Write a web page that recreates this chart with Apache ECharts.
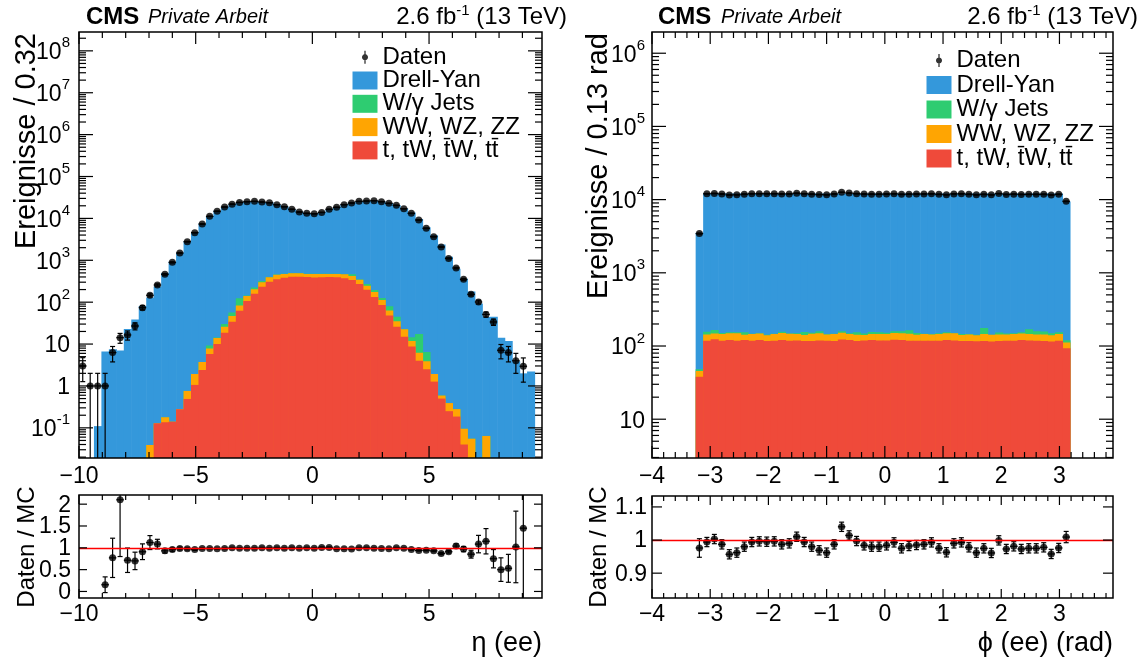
<!DOCTYPE html>
<html>
<head>
<meta charset="utf-8">
<script src="https://cdn.jsdelivr.net/npm/echarts@6.0.0/dist/echarts.min.js"></script>
<style>
html,body{margin:0;padding:0;background:#ffffff;}
#chart{width:1146px;height:660px;}
</style>
</head>
<body>
<div id="chart"></div>
<script>
// ===================== DATA =====================
// eta (ee): 62 bins of width 0.32 starting at -10
const etaBinStart = -10;
const etaBinWidth = 0.32;
const etaData = [3.0,1,1,1,6.25,14.2,16.5,27,74,146, 257,462,892,1493,2786,4570,7350,11200,14800,18700, 21900,24100,25100,25500,24600,23700,21300,19000,16500,14200, 13200,12900,13900,16500,18400,21300,23300,25500,26000,26500, 25100,22900,20500,17000,13200,9150,5800,3660,2080,1110, 655,351,154,101,51,33.7,7.1,6.25,4.0,2.95, null,null];
const etaDrellYan = [0,0,0.11,6.6,7.5,7.0,23,38.6,81,130, 237,497,929,1516,2850,4760,7455,11360,15135,18950, 21840,24215,25205,25535,24280,23545,20845,18715,16005,13845, 12725,12555,13315,15895,18355,21335,23560,25150,25730,26575, 25355,23360,20455,17150,13735,9710,6125,3935,2390,1220, 630,362,180,93,44,45,14.2,11.8,3.9,2.0, 2.2,0];
const etaWJets = [0,0,0,0,0,0,0,0,0,0, 0,0,0,0,0,0,0,1.5,0.3,4, 10,41,4,19,23,4,3,5,6,6, 4,4,4,4,4,4,41,3,25,21, 13,17,10,0.5,2.6,11.3,2.6,0,0,0, 0,0,0,0,0,0,0,0,0,0, 0,0];
const etaDiboson = [0,0,0,0,0,0,0,0,0,0.039, 0,0.043,0,0,0.27,0.87,1.33,2.0,4,7.3, 13,21,34,44,64,84,102,87,84,84, 71,81,78,71,78,90,82,73,49,42, 27,15,9,7.5,3.2,2.2,1.4,0.66,0.09,0.14, 0.094,0.055,0.055,0,0.064,0,0,0,0,0, 0,0];
const etaTop = [0,0,0,0,0,0,0,0,0,0, 0.128,0.136,0.14,0.277,0.49,1.06,2.41,5.8,10,18.7, 34,62,107,160,234,309,352,384,406,406, 400,390,393,400,393,372,339,272,198,133, 86,48,26,15,8.7,4.0,2.5,1.27,0.5,0.25, 0.186,0.04,0,0,0,0,0,0,0,0, 0,0];
const etaRatio = [null,null,null,0.154,0.77,2.1,0.715,0.70,0.91,1.12, 1.085,0.93,0.96,0.985,0.977,0.96,0.985,0.985,0.977,0.985, 1.0,0.99,0.99,0.99,1.0,0.99,1.0,0.99,1.0,0.99, 1.0,0.99,1.008,1.008,0.977,0.977,0.97,1.0,1.0,0.99, 0.985,0.977,1.0,0.99,0.96,0.94,0.946,0.93,0.87,0.91, 1.04,0.97,0.854,1.085,1.15,0.75,0.5,0.53,1.02,1.45, null,null];
const etaRatioErr = [null,null,null,0.18,0.45,1.3,0.28,0.2,0.18,0.16, 0.11,0.05,0.04,0.03,0.025,0.02,0.015,0.012,0.012,0.012, 0.012,0.012,0.012,0.012,0.012,0.012,0.012,0.012,0.012,0.012, 0.012,0.012,0.012,0.012,0.012,0.012,0.012,0.012,0.012,0.012, 0.012,0.012,0.012,0.012,0.014,0.015,0.016,0.02,0.025,0.03, 0.05,0.06,0.09,0.2,0.29,0.21,0.27,0.32,0.82,2.0, null,null];

// phi (ee): 50 bins
const phiBinStart = -3.25;
const phiBinWidth = 0.1286;
const phiData = [3435,12030,12140,11940,11580,11640,11860,12030,12050,12040, 12050,11940,11980,12220,12030,11860,11720,11640,11940,12580, 12270,12060,11910,11860,11860,11910,12020,11800,11880,11920, 11940,12020,11800,11650,11980,12020,11830,11640,11800,11630, 12090,11770,11870,11770,11800,11800,11830,11590,11810,9480];
const phiDrellYan = [3470,11950,11950,11950,11950,11950,11950,11950,11950,11950, 11950,11950,11950,11950,11950,11950,11950,11950,11950,11950, 11950,11950,11950,11950,11950,11950,11950,11950,11950,11950, 11950,11950,11950,11950,11950,11950,11950,11950,11950,11950, 11950,11950,11950,11950,11950,11950,11950,11950,11950,9280];
const phiWJets = [2.3,12.7,16.5,4.4,4.8,4.8,10.8,1.3,1.7,3, 1.3,5,1.7,3,14,4.7,9.6,1.7,1.3,6.6, 3,10.8,7.6,9.4,7.8,6,9.6,9.6,16.7,7.4, 1,1.7,3,4.8,1,4.6,1.7,3,30,1, 9.5,4.7,3,6.5,23,15.7,14.3,9,7.8,7.4];
const phiDiboson = [7.7,26,24.5,28,28,31,22,28,27,23, 28,30,29,27,24,30,30,26,29,29, 25,26,22,25,27,27,28,28,29,25, 28,26,28,28,30,24,27,24,29,27, 27,26,28,27,27,26,27,25,28,19];
const phiTop = [38,118,124,118,121,118,121,118,121,117, 118,121,118,119,117,117,119,118,117,123, 121,117,119,121,119,119,122,121,118,118, 118,118,118,121,119,117,117,116,117,115, 117,118,118,121,119,118,117,115,118,93];
const phiRatio = [0.976,0.994,1.003,0.987,0.957,0.962,0.98,0.994,0.996,0.995, 0.996,0.987,0.99,1.01,0.994,0.98,0.969,0.962,0.987,1.04, 1.014,0.997,0.984,0.98,0.98,0.984,0.993,0.975,0.982,0.985, 0.987,0.993,0.975,0.963,0.99,0.993,0.978,0.962,0.975,0.961, 0.999,0.973,0.981,0.973,0.975,0.975,0.978,0.958,0.976,1.009];
const phiRatioErr = [0.028,0.014,0.014,0.014,0.014,0.014,0.014,0.014,0.014,0.014, 0.014,0.014,0.014,0.014,0.014,0.014,0.014,0.014,0.014,0.014, 0.014,0.014,0.014,0.014,0.014,0.014,0.014,0.014,0.014,0.014, 0.014,0.014,0.014,0.014,0.014,0.014,0.014,0.014,0.014,0.014, 0.014,0.014,0.014,0.014,0.014,0.014,0.014,0.014,0.014,0.017];

// tick labels
const etaTickValues = [-10, -5, 0, 5];
const phiTickValues = [-4, -3, -2, -1, 0, 1, 2, 3];
const etaCountExponents = [-1, 0, 1, 2, 3, 4, 5, 6, 7, 8];
const phiCountExponents = [1, 2, 3, 4, 5, 6];
const etaRatioTicks = [0, 0.5, 1, 1.5, 2];
const phiRatioTicks = [0.9, 1, 1.1];
const legendNames = ['Daten', 'Drell-Yan', 'W/\u03b3 Jets', 'WW, WZ, ZZ', 't, tW, t\u0304W, tt\u0304'];

// ===================== HELPERS =====================
const FONT = '"Liberation Sans", Arial, Helvetica, sans-serif';
const COL = { dy: '#3498db', wj: '#2ecc71', vv: '#ffa502', tt: '#ef4a3a' };
const LABEL_SIZE = 23;
const mctx = document.createElement('canvas').getContext('2d');
function textWidth(t, font) { mctx.font = font; return mctx.measureText(t).width; }
function fmtNum(v) { return String(v).replace('-', '\u2212'); }
function txt(text, x, y, font, align, valign, extra) {
  const o = { type: 'text', style: { text: text, x: x, y: y, font: font, fill: '#000',
    align: align, verticalAlign: valign, textAlign: align, textVerticalAlign: valign } };
  return Object.assign(o, extra || {});
}

function stackTops(layers) {
  const out = [];
  let acc = layers[0].map(() => 0);
  layers.forEach(l => { acc = acc.map((a, i) => a + (l[i] || 0)); out.push(acc.slice()); });
  return out;
}
function histItems(start, width, tops) {
  const items = [];
  tops.forEach((t, i) => { if (t > 0) items.push([start + width * i, start + width * (i + 1), t]); });
  return items;
}
function pointItems(start, width, vals) {
  const items = [];
  vals.forEach((v, i) => { if (v != null) items.push([start + width * (i + 0.5), v]); });
  return items;
}
function errItems(start, width, vals, errs, isLog) {
  const items = [];
  vals.forEach((v, i) => {
    if (v == null) return;
    const e = errs ? errs[i] : Math.sqrt(v); // Poisson uncertainty for counts
    items.push([start + width * (i + 0.5), width / 2, v, e, isLog ? 1 : 0]);
  });
  return items;
}

function renderHist(params, api) {
  const cs = params.coordSys;
  const x0 = api.value(0), x1 = api.value(1), top = api.value(2);
  const p0 = api.coord([x0, top]);
  const p1 = api.coord([x1, top]);
  const B = cs.y + cs.height;
  const yT = Math.max(p0[1], cs.y);
  if (!(yT < B)) return null;
  return { type: 'rect', shape: { x: p0[0], y: yT, width: p1[0] - p0[0] + 0.6, height: B - yT },
    style: { fill: api.visual('color') } };
}

function renderErr(params, api) {
  const cs = params.coordSys, T = cs.y, B = cs.y + cs.height;
  const xc = api.value(0), hw = api.value(1), y = api.value(2), e = api.value(3), isLog = api.value(4) === 1;
  const pc = api.coord([xc, y]);
  const xl = api.coord([xc - hw, y])[0], xr = api.coord([xc + hw, y])[0];
  const yHi = api.coord([xc, y + e])[1];
  const yLo = (isLog && y - e <= 0) ? B + 10 : api.coord([xc, y - e])[1];
  const st = { stroke: '#000', lineWidth: 1.2 };
  const ch = [];
  ch.push({ type: 'line', shape: { x1: xl, y1: pc[1], x2: xr, y2: pc[1] }, style: st });
  const y1 = Math.max(yHi, T), y2 = Math.min(yLo, B);
  ch.push({ type: 'line', shape: { x1: pc[0], y1: y1, x2: pc[0], y2: y2 }, style: st });
  if (yHi >= T) ch.push({ type: 'line', shape: { x1: pc[0] - 2.5, y1: yHi, x2: pc[0] + 2.5, y2: yHi }, style: st });
  if (yLo <= B) ch.push({ type: 'line', shape: { x1: pc[0] - 2.5, y1: yLo, x2: pc[0] + 2.5, y2: yLo }, style: st });
  return { type: 'group', children: ch };
}

function logMinors(min, max) {
  const out = [];
  for (let k = Math.floor(Math.log10(min)) - 1; k <= Math.ceil(Math.log10(max)); k++) {
    for (let m = 2; m <= 9; m++) { const v = m * Math.pow(10, k); if (v > min && v < max) out.push(v); }
  }
  return out;
}
function linMinors(min, max, step, majorStep) {
  const out = [];
  const n0 = Math.ceil(min / step - 1e-6), n1 = Math.floor(max / step + 1e-6);
  for (let n = n0; n <= n1; n++) {
    const v = n * step;
    const r = v / majorStep;
    if (Math.abs(r - Math.round(r)) > 1e-6) out.push(v);
  }
  return out;
}

function makeDecor(cfg) {
  return function (params, api) {
    const cs = params.coordSys;
    const L = cs.x, T = cs.y, R = cs.x + cs.width, B = cs.y + cs.height;
    const X = v => api.coord([v, cfg.yRef])[0];
    const Y = v => api.coord([cfg.xRef, v])[1];
    const ch = [];
    const st = { stroke: '#000', lineWidth: 1.2 };
    const ln = (x1, y1, x2, y2) => ch.push({ type: 'line', shape: { x1, y1, x2, y2 }, style: st });
    cfg.xMajor.forEach(v => { const x = X(v); ln(x, B, x, B - cfg.xMaj); ln(x, T, x, T + cfg.xMaj); });
    cfg.xMinor.forEach(v => { const x = X(v); ln(x, B, x, B - cfg.xMin); ln(x, T, x, T + cfg.xMin); });
    cfg.yMajor.forEach(v => { const y = Y(v); ln(L, y, L + cfg.yMaj, y); ln(R, y, R - cfg.yMaj, y); });
    cfg.yMinor.forEach(v => { const y = Y(v); ln(L, y, L + cfg.yMin, y); ln(R, y, R - cfg.yMin, y); });
    const lf = LABEL_SIZE + 'px ' + FONT;
    cfg.xLabels.forEach(v => ch.push(txt(fmtNum(v), X(v), B + cfg.xLabelGap, lf, 'center', 'top')));
    const xr = L - cfg.yLabelGap;
    if (cfg.yExps) {
      const sf = '15px ' + FONT;
      cfg.yExps.forEach(k => {
        const yc = Y(Math.pow(10, k));
        if (k === 0 || k === 1) {
          ch.push(txt(k === 0 ? '1' : '10', xr, yc + 2, lf, 'right', 'middle'));
        } else {
          const s = String(k);
          const w = textWidth(s, sf);
          ch.push(txt(s, xr - w, yc - 7.5, sf, 'left', 'middle'));
          ch.push(txt('10', xr - w, yc + 2, lf, 'right', 'middle'));
        }
      });
    } else {
      cfg.yLabels.forEach(v => ch.push(txt(fmtNum(v), xr, Y(v) + 1, lf, 'right', 'middle')));
    }
    ch.push({ type: 'rect', shape: { x: L, y: T, width: R - L, height: B - T },
      style: { fill: 'none', stroke: '#000', lineWidth: 1.5 } });
    return { type: 'group', children: ch };
  };
}

// ===================== AXES RANGES =====================
const etaMin = -10, etaMax = 9.84, phiMin = -4, phiMax = 3.92;
const etaYMin = Math.pow(10, -1.72), etaYMax = Math.pow(10, 8.45);
const phiYMin = Math.pow(10, 0.47), phiYMax = Math.pow(10, 6.29);
const etaRMin = -0.15, etaRMax = 2.21, phiRMin = 0.825, phiRMax = 1.133;

// ===================== SERIES =====================
const names = legendNames;
function histSeries(start, width, layers, xi, yi) {
  // layers bottom -> top: top, diboson, wjets, drell-yan
  const tops = stackTops(layers);
  const defs = [
    { name: names[1], tops: tops[3], color: COL.dy },
    { name: names[2], tops: tops[2], color: COL.wj },
    { name: names[3], tops: tops[1], color: COL.vv },
    { name: names[4], tops: tops[0], color: COL.tt }
  ];
  return defs.map(d => ({
    type: 'custom', name: d.name, coordinateSystem: 'cartesian2d', xAxisIndex: xi, yAxisIndex: yi,
    encode: { x: [0, 1], y: 2 }, data: histItems(start, width, d.tops), renderItem: renderHist,
    itemStyle: { color: d.color }, z: 2, silent: true
  }));
}

const series = [];
// ---- eta upper
series.push(...histSeries(etaBinStart, etaBinWidth, [etaTop, etaDiboson, etaWJets, etaDrellYan], 0, 0));
series.push({ type: 'custom', name: 'etaErr', coordinateSystem: 'cartesian2d', xAxisIndex: 0, yAxisIndex: 0,
  encode: { x: 0, y: 2 }, data: errItems(etaBinStart, etaBinWidth, etaData, null, true), renderItem: renderErr, z: 3, silent: true });
series.push({ type: 'scatter', name: 'Daten', xAxisIndex: 0, yAxisIndex: 0, data: pointItems(etaBinStart, etaBinWidth, etaData),
  symbol: 'circle', symbolSize: 7, itemStyle: { color: '#000' }, z: 4, silent: true });
series.push({ type: 'custom', name: 'decor0', coordinateSystem: 'cartesian2d', xAxisIndex: 0, yAxisIndex: 0,
  encode: { x: 0, y: 1 }, data: [[0, 1]], z: 10, silent: true,
  renderItem: makeDecor({ xRef: 0, yRef: 1, xMajor: etaTickValues, xMinor: linMinors(etaMin, etaMax, 1, 5), xMaj: 12, xMin: 6,
    yMajor: etaCountExponents.map(k => Math.pow(10, k)), yMinor: logMinors(etaYMin, etaYMax), yMaj: 14, yMin: 7,
    xLabels: etaTickValues, xLabelGap: 7, yExps: etaCountExponents, yLabelGap: 9 }) });
// ---- eta ratio
series.push({ type: 'custom', name: 'etaRErr', coordinateSystem: 'cartesian2d', xAxisIndex: 1, yAxisIndex: 1,
  encode: { x: 0, y: 2 }, data: errItems(etaBinStart, etaBinWidth, etaRatio, etaRatioErr, false), renderItem: renderErr, z: 3, silent: true });
series.push({ type: 'scatter', name: 'etaRatio', xAxisIndex: 1, yAxisIndex: 1, data: pointItems(etaBinStart, etaBinWidth, etaRatio),
  symbol: 'circle', symbolSize: 7, itemStyle: { color: '#000' }, z: 4, silent: true,
  markLine: { silent: true, symbol: ['none', 'none'], label: { show: false }, animation: false,
    lineStyle: { color: '#ff0000', width: 1.3, type: 'solid' }, data: [{ yAxis: 1 }] } });
series.push({ type: 'custom', name: 'decor1', coordinateSystem: 'cartesian2d', xAxisIndex: 1, yAxisIndex: 1,
  encode: { x: 0, y: 1 }, data: [[0, 1]], z: 10, silent: true,
  renderItem: makeDecor({ xRef: 0, yRef: 1, xMajor: etaTickValues, xMinor: linMinors(etaMin, etaMax, 1, 5), xMaj: 9, xMin: 5,
    yMajor: etaRatioTicks, yMinor: [], yMaj: 8, yMin: 4,
    xLabels: etaTickValues, xLabelGap: 5, yLabels: etaRatioTicks, yLabelGap: 8 }) });
// ---- phi upper
series.push(...histSeries(phiBinStart, phiBinWidth, [phiTop, phiDiboson, phiWJets, phiDrellYan], 2, 2));
series.push({ type: 'custom', name: 'phiErr', coordinateSystem: 'cartesian2d', xAxisIndex: 2, yAxisIndex: 2,
  encode: { x: 0, y: 2 }, data: errItems(phiBinStart, phiBinWidth, phiData, null, true), renderItem: renderErr, z: 3, silent: true });
series.push({ type: 'scatter', name: 'Daten', xAxisIndex: 2, yAxisIndex: 2, data: pointItems(phiBinStart, phiBinWidth, phiData),
  symbol: 'circle', symbolSize: 7, itemStyle: { color: '#000' }, z: 4, silent: true });
series.push({ type: 'custom', name: 'decor2', coordinateSystem: 'cartesian2d', xAxisIndex: 2, yAxisIndex: 2,
  encode: { x: 0, y: 1 }, data: [[0, 10]], z: 10, silent: true,
  renderItem: makeDecor({ xRef: 0, yRef: 10, xMajor: phiTickValues, xMinor: linMinors(phiMin, phiMax, 0.2, 1), xMaj: 12, xMin: 6,
    yMajor: phiCountExponents.map(k => Math.pow(10, k)), yMinor: logMinors(phiYMin, phiYMax), yMaj: 14, yMin: 7,
    xLabels: phiTickValues, xLabelGap: 7, yExps: phiCountExponents, yLabelGap: 7 }) });
// ---- phi ratio
series.push({ type: 'custom', name: 'phiRErr', coordinateSystem: 'cartesian2d', xAxisIndex: 3, yAxisIndex: 3,
  encode: { x: 0, y: 2 }, data: errItems(phiBinStart, phiBinWidth, phiRatio, phiRatioErr, false), renderItem: renderErr, z: 3, silent: true });
series.push({ type: 'scatter', name: 'phiRatio', xAxisIndex: 3, yAxisIndex: 3, data: pointItems(phiBinStart, phiBinWidth, phiRatio),
  symbol: 'circle', symbolSize: 7, itemStyle: { color: '#000' }, z: 4, silent: true,
  markLine: { silent: true, symbol: ['none', 'none'], label: { show: false }, animation: false,
    lineStyle: { color: '#ff0000', width: 1.3, type: 'solid' }, data: [{ yAxis: 1 }] } });
series.push({ type: 'custom', name: 'decor3', coordinateSystem: 'cartesian2d', xAxisIndex: 3, yAxisIndex: 3,
  encode: { x: 0, y: 1 }, data: [[0, 1]], z: 10, silent: true,
  renderItem: makeDecor({ xRef: 0, yRef: 1, xMajor: phiTickValues, xMinor: linMinors(phiMin, phiMax, 0.2, 1), xMaj: 9, xMin: 5,
    yMajor: phiRatioTicks, yMinor: [], yMaj: 10, yMin: 5,
    xLabels: phiTickValues, xLabelGap: 5, yLabels: phiRatioTicks, yLabelGap: 5 }) });

// ===================== LEGEND =====================
function datenIcon() {
  let p = 'path://M0,0h0.01v0.01h-0.01z M24.99,17.99h0.01v0.01h-0.01z M11.85,2.5h1.3v13h-1.3z';
  const cx = 12.5, cy = 9, r = 3.0, n = 20;
  for (let i = 0; i < n; i++) {
    const a = 2 * Math.PI * i / n;
    p += (i === 0 ? ' M' : ' L') + (cx + r * Math.cos(a)).toFixed(3) + ',' + (cy + r * Math.sin(a)).toFixed(3);
  }
  return p + ' Z';
}
const legendData = names.map((n, i) => i === 0 ? { name: n, icon: datenIcon() } : { name: n, icon: 'rect' });
function legendAt(left, top, gap) {
  return { left: left, top: top, orient: 'vertical', padding: 0, itemWidth: 25, itemHeight: 18, itemGap: gap,
    selectedMode: false, symbolKeepAspect: false, data: legendData,
    textStyle: { fontSize: 24, fontFamily: FONT, color: '#000', lineHeight: 20 } };
}

// ===================== TEXTS =====================
function header(xCms, xPriv, xRight) {
  const f = '24px ' + FONT, fs = '15px ' + FONT;
  const a = '2.6 fb', s = '-1', b = ' (13 TeV)';
  const wa = textWidth(a, f), ws = textWidth(s, fs), wb = textWidth(b, f);
  const x0 = xRight - (wa + ws + wb);
  return [
    txt('CMS', xCms, 17, 'bold 24px ' + FONT, 'left', 'middle'),
    txt('Private Arbeit', xPriv, 17.5, 'italic 20px ' + FONT, 'left', 'middle'),
    txt(a, x0, 17.5, f, 'left', 'middle'),
    txt(s, x0 + wa, 10.5, fs, 'left', 'middle'),
    txt(b, x0 + wa + ws, 17.5, f, 'left', 'middle')
  ];
}
const graphics = [].concat(
  header(86, 148, 567),
  header(658, 721, 1138),
  [
    txt('Ereignisse / 0.32', 0, 0, '29px ' + FONT, 'right', 'middle', { x: 27, y: 33, rotation: Math.PI / 2 }),
    txt('Ereignisse / 0.13 rad', 0, 0, '29px ' + FONT, 'right', 'middle', { x: 599, y: 33, rotation: Math.PI / 2 }),
    txt('Daten / MC', 0, 0, '24px ' + FONT, 'center', 'middle', { x: 27, y: 547, rotation: Math.PI / 2 }),
    txt('Daten / MC', 0, 0, '24px ' + FONT, 'center', 'middle', { x: 599, y: 547, rotation: Math.PI / 2 }),
    txt('\u03b7 (ee)', 542, 644, '27px ' + FONT, 'right', 'middle'),
    txt('\u03d5 (ee) (rad)', 1113, 644, '27px ' + FONT, 'right', 'middle')
  ]
).map(g => Object.assign(g, { z: 100, silent: true }));

// ===================== OPTION =====================
const chart = echarts.init(document.getElementById('chart'), null, { renderer: 'canvas' });
chart.setOption({
  animation: false,
  backgroundColor: '#ffffff',
  textStyle: { fontFamily: FONT },
  grid: [
    { left: 79, top: 32, width: 463, height: 426 },
    { left: 79, top: 495, width: 463, height: 103 },
    { left: 652, top: 32, width: 461, height: 426 },
    { left: 652, top: 496, width: 461, height: 102 }
  ],
  xAxis: [
    { gridIndex: 0, type: 'value', min: etaMin, max: etaMax, show: false },
    { gridIndex: 1, type: 'value', min: etaMin, max: etaMax, show: false },
    { gridIndex: 2, type: 'value', min: phiMin, max: phiMax, show: false },
    { gridIndex: 3, type: 'value', min: phiMin, max: phiMax, show: false }
  ],
  yAxis: [
    { gridIndex: 0, type: 'log', logBase: 10, min: etaYMin, max: etaYMax, show: false },
    { gridIndex: 1, type: 'value', min: etaRMin, max: etaRMax, show: false },
    { gridIndex: 2, type: 'log', logBase: 10, min: phiYMin, max: phiYMax, show: false },
    { gridIndex: 3, type: 'value', min: phiRMin, max: phiRMax, show: false }
  ],
  legend: [legendAt(352.5, 45.2, -0.7), legendAt(926.5, 48.5, 0.5)],
  graphic: graphics,
  series: series
});
</script>
</body>
</html>
